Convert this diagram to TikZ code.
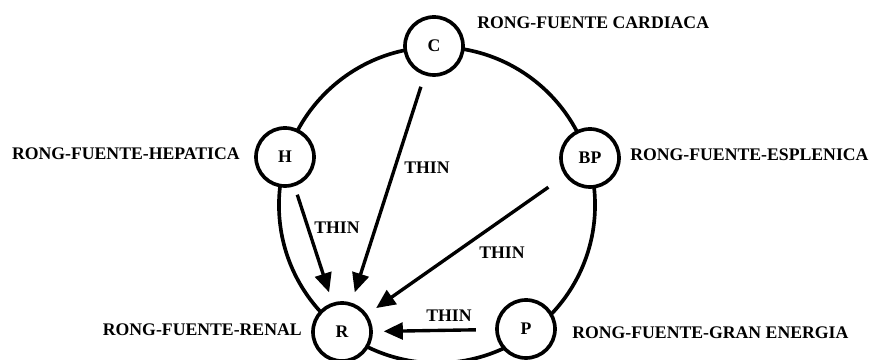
\documentclass[tikz,border=0pt]{standalone}
\usepackage{fontspec}
\setmainfont{Liberation Serif}
\usetikzlibrary{arrows.meta}

\begin{document}
\begin{tikzpicture}[
  x=0.025cm, y=-0.025cm,
  every node/.style={font=\fontsize{12.6}{14}\selectfont\bfseries, inner sep=0pt},
  organ/.style={draw, circle, fill=white, line width=2.6pt, minimum size=1.45cm},
  flow/.style={-{Triangle[length=0.48cm, width=0.42cm]}, line width=2.4pt},
]
  \useasboundingbox (0,0) rectangle (870,360);

  % Ring
  \draw[line width=2.6pt] (437,205) circle[radius=3.95cm];

  % Sources
  \node[organ] (C) at (434,46) {C};
  \node[organ] (H) at (285,157) {H};
  \node[organ] (BP) at (590,158) {BP};
  \node[organ] (R) at (342,332) {R};
  \node[organ] (P) at (526,329) {P};

  % Names
  \node[anchor=west] (lC) at (477,23) {RONG-FUENTE CARDIACA};
  \node[anchor=east] (lH) at (240,154) {RONG-FUENTE-HEPATICA};
  \node[anchor=west] (lBP) at (630,155) {RONG-FUENTE-ESPLENICA};
  \node[anchor=east] (lR) at (302,330) {RONG-FUENTE-RENAL};
  \node[anchor=west] (lP) at (572,333) {RONG-FUENTE-GRAN ENERGIA};

  % Flows into R
  \draw[flow, shorten <=0.3cm, shorten >=0.27cm] (C) -- (R);
  \draw[flow, shorten <=0.22cm, shorten >=0.27cm] (H) -- (R);
  \draw[flow, shorten <=0.5cm, shorten >=0.27cm] (BP) -- (R);
  \draw[flow, shorten <=0.48cm, shorten >=0.27cm] (P) -- (R);

  \node (tC) at (427,168) {THIN};
  \node (tH) at (337,228) {THIN};
  \node (tBP) at (502,253) {THIN};
  \node (tP) at (449,316) {THIN};
\end{tikzpicture}
\end{document}
